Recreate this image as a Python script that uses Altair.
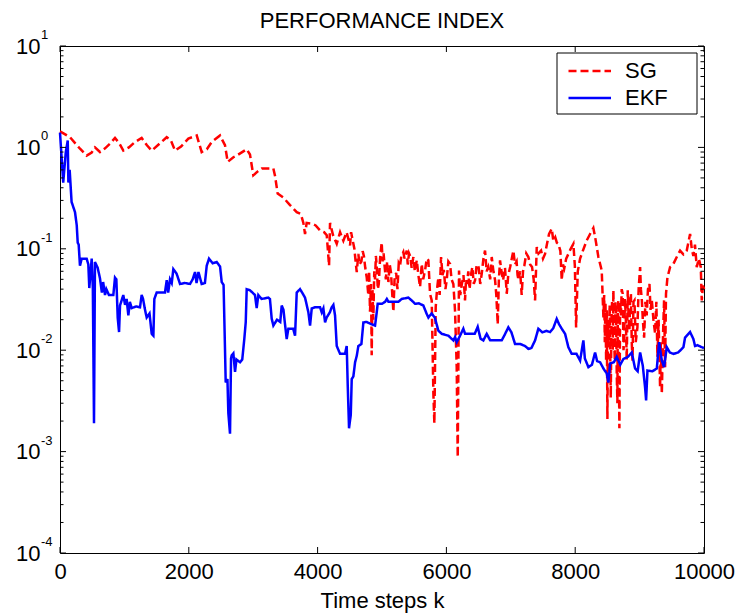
import altair as alt
import pandas as pd

# ---- data -------------------------------------------------------------
SG_K = [0, 155, 311, 414, 492, 543, 621, 700, 777, 854, 920, 983, 1070, 1165,
        1268, 1350, 1424, 1540, 1657, 1720, 1786, 1880, 1993, 2123, 2200, 2280,
        2356, 2485, 2562, 2604, 2692, 2744, 2899, 2950, 3002, 3070, 3132, 3313,
        3340, 3380, 3468, 3572, 3676, 3740, 3779, 3805, 3830, 3909, 3970, 4038,
        4100, 4142, 4178, 4193, 4240, 4297, 4349, 4400, 4450, 4504, 4520, 4571,
        4590, 4608, 4633, 4650, 4680, 4700, 4720, 4740, 4763, 4788, 4800, 4814,
        4830, 4840, 4852, 4865, 4880, 4892, 4905, 4918, 4935, 4950, 4970, 4995,
        5010, 5025, 5040, 5060, 5080, 5099, 5120, 5140, 5160, 5177, 5195, 5220,
        5240, 5260, 5280, 5300, 5331, 5350, 5384, 5400, 5420, 5440, 5460, 5487,
        5510, 5540, 5565, 5591, 5617, 5640, 5670, 5695, 5720, 5746, 5772, 5798,
        5813, 5834, 5855, 5875, 5895, 5917, 5940, 5960, 5985, 6005, 6030, 6057,
        6080, 6108, 6134, 6160, 6176, 6196, 6215, 6240, 6265, 6289, 6305, 6320,
        6340, 6360, 6380, 6403, 6425, 6445, 6470, 6500, 6525, 6549, 6575, 6600,
        6625, 6650, 6680, 6704, 6730, 6756, 6775, 6797, 6815, 6833, 6855, 6880,
        6910, 6937, 6960, 6990, 7015, 7040, 7065, 7090, 7105, 7120, 7145, 7169,
        7190, 7210, 7240, 7273, 7300, 7330, 7355, 7377, 7403, 7430, 7470, 7500,
        7532, 7560, 7594, 7636, 7660, 7690, 7715, 7739, 7770, 7791, 7810, 7830,
        7860, 7894, 7930, 7972, 7995, 8014, 8040, 8076, 8130, 8179, 8231, 8282,
        8310, 8360, 8412, 8438, 8450, 8460, 8470, 8480, 8490, 8500, 8510, 8520,
        8535, 8552, 8563, 8573, 8583, 8593, 8605, 8615, 8625, 8635, 8645, 8655,
        8662, 8670, 8678, 8686, 8698, 8710, 8722, 8738, 8750, 8760, 8772, 8785,
        8800, 8816, 8830, 8842, 8855, 8865, 8878, 8890, 8905, 8920, 8940, 8966,
        8985, 9008, 9020, 9035, 9050, 9070, 9090, 9110, 9130, 9153, 9170, 9190,
        9215, 9241, 9260, 9277, 9295, 9318, 9330, 9345, 9365, 9380, 9396, 9410,
        9432, 9473, 9520, 9577, 9629, 9680, 9732, 9784, 9810, 9835, 9860, 9887,
        9920, 9950, 9965, 9985, 10000]
SG_V = [1.44, 1.26, 0.97, 0.83, 0.89, 1.00, 0.90, 0.98, 1.09, 1.24, 1.10, 0.93,
        1.00, 1.13, 1.24, 1.05, 0.93, 1.08, 1.26, 1.18, 0.93, 1.02, 1.22, 1.31,
        0.90, 0.96, 1.13, 1.31, 1.05, 0.72, 0.80, 0.83, 0.96, 0.85, 0.53, 0.58,
        0.62, 0.62, 0.52, 0.35, 0.32, 0.27, 0.23, 0.22, 0.18, 0.14, 0.18, 0.177,
        0.17, 0.152, 0.146, 0.136, 0.068, 0.18, 0.136, 0.112, 0.146, 0.12, 0.146,
        0.108, 0.146, 0.10,
        0.075, 0.059, 0.089, 0.070, 0.075, 0.095, 0.084, 0.065, 0.052, 0.035,
        0.060, 0.024, 0.045, 0.0089, 0.040, 0.020, 0.060, 0.050, 0.085, 0.068,
        0.040, 0.045, 0.080, 0.116, 0.075, 0.090, 0.068, 0.050, 0.075, 0.047,
        0.070, 0.058, 0.035, 0.024, 0.050, 0.058, 0.040, 0.072, 0.068, 0.085,
        0.093, 0.080, 0.096, 0.070, 0.090, 0.084, 0.065, 0.083, 0.060, 0.077,
        0.055, 0.042, 0.071, 0.050, 0.062, 0.080, 0.077, 0.036, 0.031, 0.0037,
        0.0019, 0.0265, 0.040, 0.052, 0.035, 0.083, 0.055, 0.062, 0.040, 0.049,
        0.075, 0.071, 0.050, 0.045, 0.0246, 0.0068, 0.00088, 0.061, 0.035, 0.045,
        0.055, 0.031, 0.050, 0.045, 0.060, 0.040, 0.055, 0.066, 0.045, 0.049,
        0.070, 0.066, 0.045, 0.057, 0.080, 0.096, 0.060, 0.066, 0.050, 0.083,
        0.060, 0.049, 0.035, 0.018, 0.050, 0.077, 0.060, 0.049, 0.065, 0.036,
        0.055, 0.066, 0.080, 0.096, 0.070, 0.075, 0.055, 0.049, 0.060, 0.035,
        0.060, 0.068, 0.090, 0.083, 0.070, 0.066, 0.050, 0.031, 0.104, 0.090,
        0.096, 0.080, 0.089, 0.110, 0.14, 0.158, 0.120, 0.13, 0.115, 0.112,
        0.095, 0.049, 0.070, 0.064, 0.080, 0.089, 0.100, 0.112, 0.067, 0.0168,
        0.060, 0.080, 0.100, 0.121, 0.14, 0.16, 0.13, 0.083, 0.061, 0.021,
        0.035, 0.012, 0.030, 0.0079, 0.025, 0.0021, 0.020, 0.011, 0.028, 0.0034,
        0.020, 0.031, 0.010, 0.039, 0.012, 0.0079, 0.030, 0.022, 0.006, 0.0030,
        0.025, 0.031, 0.008, 0.0017, 0.030, 0.022, 0.040, 0.036, 0.010, 0.012,
        0.032, 0.022, 0.008, 0.039, 0.020, 0.0156, 0.035, 0.036, 0.012, 0.0079,
        0.030, 0.031, 0.012, 0.0168, 0.040, 0.066, 0.040, 0.031, 0.020, 0.0133,
        0.030, 0.022, 0.040, 0.045, 0.025, 0.031, 0.020, 0.0145, 0.030, 0.0086,
        0.020, 0.0043, 0.012, 0.0037, 0.015, 0.031, 0.0068, 0.036,
        0.052, 0.066, 0.070, 0.083, 0.096, 0.088, 0.096, 0.14, 0.10, 0.085,
        0.11, 0.066, 0.080, 0.066, 0.031, 0.045, 0.040]

EKF_K = [0, 50, 90, 120, 130, 150, 180, 233, 260, 275, 290, 310, 337, 414, 440,
         455, 492, 510, 528, 543, 585, 621, 650, 670, 699, 720, 760, 828, 854,
         875, 896, 917, 932, 983, 1010, 1035, 1061, 1085, 1113, 1180, 1242, 1268,
         1290, 1315, 1346, 1390, 1424, 1450, 1465, 1501, 1630, 1657, 1680, 1708,
         1735, 1760, 1810, 1864, 1940, 2019, 2060, 2097, 2120, 2150, 2200, 2250,
         2278, 2314, 2370, 2433, 2485, 2511, 2540, 2562, 2573, 2600, 2614, 2640,
         2656, 2666, 2692, 2718, 2740, 2795, 2830, 2862, 2884, 2899, 2950, 3028,
         3054, 3080, 3130, 3235, 3260, 3287, 3313, 3370, 3420, 3443, 3470, 3490,
         3520, 3546, 3620, 3650, 3676, 3727, 3760, 3805, 3857, 3883, 3909, 3960,
         4038, 4065, 4090, 4116, 4140, 4190, 4219, 4245, 4271, 4297, 4349, 4426,
         4452, 4468, 4488, 4515, 4530, 4555, 4582, 4608, 4633, 4680, 4711, 4760,
         4840, 4892, 4918, 4933, 5000, 5048, 5075, 5100, 5254, 5306, 5409, 5460,
         5513, 5570, 5642, 5694, 5720, 5770, 5820, 5875, 5927, 6030, 6108, 6135,
         6160, 6212, 6263, 6290, 6393, 6440, 6486, 6530, 6574, 6626, 6680, 6756,
         6859, 6900, 6962, 7010, 7066, 7150, 7221, 7273, 7320, 7377, 7428, 7490,
         7550, 7610, 7660, 7713, 7750, 7791, 7843, 7894, 7946, 8020, 8076, 8127,
         8150, 8205, 8260, 8309, 8340, 8387, 8438, 8490, 8516, 8542, 8600, 8645,
         8700, 8749, 8820, 8878, 8930, 8970, 9008, 9050, 9085, 9101, 9122, 9200,
         9267, 9303, 9345, 9380, 9422, 9470, 9525, 9600, 9680, 9706, 9784, 9835,
         9861, 9900, 9965, 10000]
EKF_V = [1.40, 0.45, 0.90, 1.17, 0.45, 0.60, 0.29, 0.23, 0.17, 0.115, 0.11,
         0.068, 0.080, 0.080, 0.070, 0.041, 0.080, 0.041, 0.0019, 0.074, 0.065,
         0.051, 0.037, 0.047, 0.035, 0.040, 0.035, 0.035, 0.052, 0.050, 0.021,
         0.0151, 0.0276, 0.035, 0.028, 0.032, 0.022, 0.030, 0.026, 0.027, 0.0265,
         0.035, 0.032, 0.026, 0.021, 0.023, 0.0145, 0.0139, 0.032, 0.037, 0.037,
         0.049, 0.037, 0.050, 0.046, 0.063, 0.057, 0.045, 0.046, 0.045, 0.050,
         0.059, 0.046, 0.059, 0.045, 0.046, 0.068, 0.080, 0.072, 0.074, 0.067,
         0.047, 0.044, 0.0103, 0.0048, 0.0052, 0.0024, 0.0015, 0.0083, 0.0089,
         0.0093, 0.0061, 0.0081, 0.0076, 0.0081, 0.0129, 0.0188, 0.040, 0.039,
         0.035, 0.026, 0.035, 0.032, 0.033, 0.032, 0.0205, 0.0175, 0.020, 0.019,
         0.0276, 0.025, 0.019, 0.0129, 0.0163, 0.0163, 0.0139, 0.037, 0.040,
         0.037, 0.033, 0.0236, 0.0175, 0.0258, 0.0265, 0.0265, 0.0236, 0.0258,
         0.0188, 0.021, 0.0236, 0.0265, 0.028, 0.022, 0.011, 0.0092, 0.0092,
         0.011, 0.0045, 0.0017, 0.0023, 0.0052, 0.0055, 0.0076, 0.0088, 0.011,
         0.0115, 0.0188, 0.019, 0.018, 0.0175, 0.0236, 0.0287, 0.0287, 0.030,
         0.032, 0.030, 0.030, 0.032, 0.033, 0.031, 0.0287, 0.029, 0.0276, 0.0228,
         0.021, 0.023, 0.021, 0.0156, 0.0145, 0.0139, 0.0125, 0.0135, 0.012,
         0.0139, 0.0163, 0.0145, 0.0145, 0.0145, 0.017, 0.013, 0.0125, 0.0145,
         0.0125, 0.0125, 0.0125, 0.014, 0.0168, 0.015, 0.0115, 0.0115, 0.011,
         0.0103, 0.0105, 0.0125, 0.0163, 0.015, 0.0155, 0.0151, 0.0165, 0.0204,
         0.018, 0.0163, 0.0145, 0.0107, 0.0092, 0.0092, 0.0079, 0.0125, 0.0083,
         0.0068, 0.0072, 0.0095, 0.0078, 0.0076, 0.0066, 0.0059, 0.0048, 0.0074,
         0.0076, 0.0086, 0.0072, 0.0082, 0.0086, 0.0095, 0.0066, 0.0062, 0.0095,
         0.0070, 0.0043, 0.0032, 0.0063, 0.0062, 0.0066, 0.012, 0.0079, 0.0068,
         0.0107, 0.0095, 0.0092, 0.0095, 0.0107, 0.0133, 0.0151, 0.0129, 0.011,
         0.0112, 0.0107, 0.0105]

SERIES = ["SG", "EKF"]
COLORS = ["#ff0000", "#0000ff"]
DASHES = [[8, 4], [1, 0]]

X_TICKS = [0, 2000, 4000, 6000, 8000, 10000]
Y_DECADES = [1e-4, 1e-3, 1e-2, 1e-1, 1e0, 1e1]
Y_EXPONENTS = ["-4", "-3", "-2", "-1", "0", "1"]
Y_MINOR = [m * 10.0 ** e for e in range(-4, 1) for m in range(2, 10)]

# ---- layout -------------------------------------------------------------
W, H = 644, 507
FONT = "Liberation Sans"
MAJOR, MINOR = 6, 3.5
LEGEND_BOX = (497, 637, 7, 68)   # x, x2, y, y2 of the legend frame in the plot

lines = pd.concat([
    pd.DataFrame({"k": SG_K, "v": SG_V, "series": "SG"}),
    pd.DataFrame({"k": EKF_K, "v": EKF_V, "series": "EKF"}),
])
xticks = pd.DataFrame({"k": X_TICKS})
ymajor = pd.DataFrame({"v": Y_DECADES, "exp": Y_EXPONENTS})
yminor = pd.DataFrame({"v": Y_MINOR})

xscale = alt.Scale(domain=[0, 10000], nice=False, zero=False)
yscale = alt.Scale(type="log", domain=[1e-4, 10], nice=False)

# one axis definition shared by every layer so the merged axes stay intact
X = alt.X(
    "k:Q", scale=xscale,
    axis=alt.Axis(values=X_TICKS, title="Time steps k", format="d",
                  labelFlush=False, labelOverlap=False, labelPadding=8,
                  titleBaseline="alphabetic", titleY=54),
)
Y = alt.Y(
    "v:Q", scale=yscale,
    axis=alt.Axis(values=Y_DECADES, labelExpr="'10'", title=None,
                  labelOverlap=False, labelPadding=20, labelBaseline="middle"),
)

# legend sample: a horizontal stroke drawn from a custom path
legend = alt.Legend(
    orient="none", legendX=497, legendY=7, title=None, padding=7,
    labelFont=FONT, labelFontSize=22, labelColor="black",
    symbolType="M-1,0H4", symbolSize=289, symbolStrokeWidth=2.5,
    symbolOffset=2, labelOffset=37, rowPadding=5,
)

color = alt.Color("series:N", scale=alt.Scale(domain=SERIES, range=COLORS), legend=legend)
dash = alt.StrokeDash("series:N", scale=alt.Scale(domain=SERIES, range=DASHES), legend=legend)

base = alt.Chart(lines).mark_line(strokeWidth=2.5, interpolate="linear")
sg_line = base.transform_filter(alt.datum.series == "SG").encode(
    x=X, y=Y, color=color, strokeDash=dash)
ekf_line = base.transform_filter(alt.datum.series == "EKF").encode(
    x=X, y=Y, color=color, strokeDash=dash)

# white boxed frame behind the legend entries
legend_frame = alt.Chart(pd.DataFrame({"box": [0]})).mark_rect(
    fill="white", stroke="black", strokeWidth=1
).encode(
    x=alt.value(LEGEND_BOX[0]), x2=alt.value(LEGEND_BOX[1]),
    y=alt.value(LEGEND_BOX[2]), y2=alt.value(LEGEND_BOX[3]),
)

# inward tick marks on all four sides of the box
tick = dict(color="black", strokeWidth=1)
ticks_bottom = alt.Chart(xticks).mark_rule(**tick).encode(x=X, y=alt.value(H), y2=alt.value(H - MAJOR))
ticks_top = alt.Chart(xticks).mark_rule(**tick).encode(x=X, y=alt.value(0), y2=alt.value(MAJOR))
ticks_left = alt.Chart(ymajor).mark_rule(**tick).encode(y=Y, x=alt.value(0), x2=alt.value(MAJOR))
ticks_right = alt.Chart(ymajor).mark_rule(**tick).encode(y=Y, x=alt.value(W), x2=alt.value(W - MAJOR))
minor_left = alt.Chart(yminor).mark_rule(**tick).encode(y=Y, x=alt.value(0), x2=alt.value(MINOR))
minor_right = alt.Chart(yminor).mark_rule(**tick).encode(y=Y, x=alt.value(W), x2=alt.value(W - MINOR))

# superscript exponents for the 10^n labels
exponents = alt.Chart(ymajor).mark_text(
    font=FONT, fontSize=13, align="left", baseline="middle", dy=-11, color="black"
).encode(y=Y, x=alt.value(-19), text="exp:N")

chart = alt.layer(
    sg_line, ekf_line, legend_frame,
    ticks_bottom, ticks_top, ticks_left, ticks_right, minor_left, minor_right,
    exponents,
).properties(
    width=W, height=H,
    background="white",
    title=alt.TitleParams("PERFORMANCE INDEX", font=FONT, fontSize=22,
                          fontWeight="normal", color="black", anchor="middle",
                          frame="group", baseline="alphabetic", offset=0, dy=21),
    autosize=alt.AutoSizeParams(type="none"),
    padding={"left": 60, "top": 46, "right": 38, "bottom": 63},
).configure_view(
    stroke="black", strokeWidth=1
).configure_axis(
    grid=False, domain=False, ticks=False,
    labelFont=FONT, labelFontSize=22, labelColor="black",
    titleFont=FONT, titleFontSize=22, titleFontWeight="normal", titleColor="black",
)

chart.save("out.html", embed_options={"renderer": "svg", "actions": False})
